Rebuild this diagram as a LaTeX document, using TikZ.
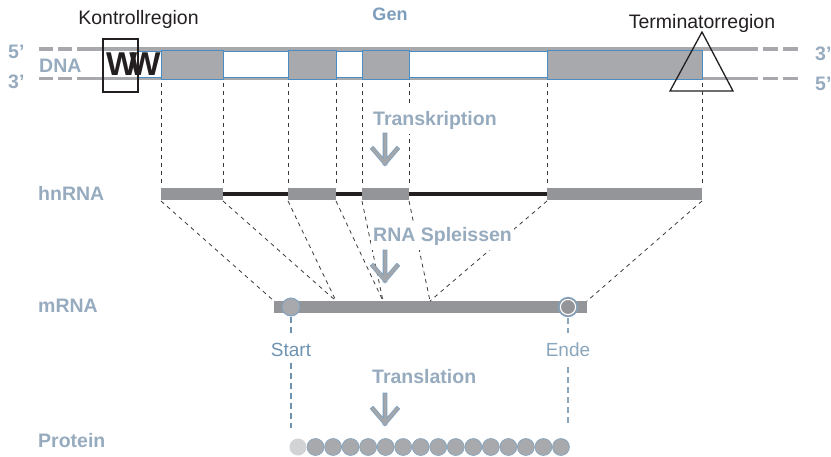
\documentclass[tikz,border=0pt]{standalone}
\usepackage{fontspec}
\setmainfont{Liberation Sans}
\usetikzlibrary{shapes.geometric}
\definecolor{strandc}{HTML}{A7A9AC}
\definecolor{exblue}{HTML}{4A8CC4}
\definecolor{exgray}{HTML}{A7A9AC}
\definecolor{hgray}{HTML}{939598}
\definecolor{intronc}{HTML}{231F20}
\definecolor{labc}{HTML}{97ABBF}
\definecolor{genc}{HTML}{7D9DBD}
\definecolor{startc}{HTML}{6E93B2}
\definecolor{endec}{HTML}{8AA6BC}
\definecolor{cutc}{HTML}{3A3A3A}
\definecolor{arrblue}{HTML}{7FA0BE}
\definecolor{arrgray}{HTML}{A3A6AA}
\definecolor{aablue}{HTML}{7FA2C0}
\definecolor{aalight}{HTML}{D1D3D4}
\begin{document}
\begin{tikzpicture}[x=1pt,y=-1pt,
  strand/.style={draw=strandc, line width=3.3pt},
  dex/.style={draw=exblue, line width=0.6pt, fill=exgray, minimum height=29pt, inner sep=0pt, outer sep=0pt, rectangle},
  hex/.style={fill=hgray, minimum height=12pt, inner sep=0pt, outer sep=0pt, rectangle},
  cut/.style={draw=cutc, line width=0.8pt, dash pattern=on 4pt off 4pt},
  lbl/.style={font=\fontsize{19.5}{22}\selectfont\bfseries, text=labc, inner sep=0pt, anchor=base west},
  steplbl/.style={font=\fontsize{19.5}{22}\selectfont\bfseries, text=labc, fill=white, inner xsep=2pt, inner ysep=5pt, anchor=base west},
  reg/.style={font=\fontsize{19.5}{22}\selectfont, text=intronc, inner sep=0pt, anchor=base},
  arrout/.style={draw=arrblue, line width=4.6pt, line cap=rect, line join=miter},
  arrin/.style={draw=arrgray, line width=3pt, line cap=rect, line join=miter},
  downarr/.pic={
    \draw[arrout] (0,0) -- (0,28) (-12,14) -- (0,28) -- (12,14);
    \draw[arrin] (0,0) -- (0,28) (-12,14) -- (0,28) -- (12,14);
  },
  aa/.style={circle, minimum size=17pt, inner sep=0pt, fill=exgray, draw=aablue, line width=0.6pt},
]
\useasboundingbox (0,0) rectangle (831,456);

% ---------- DNA ----------
\draw[strand] (77,49) -- (758,49);
\draw[strand] (39,49) -- (53,49) (58,49) -- (72,49) (763,49) -- (778,49) (783,49) -- (798,49);
\draw[strand] (77,78.5) -- (758,78.5);
\draw[strand] (39,78.5) -- (53,78.5) (58,78.5) -- (72,78.5) (763,78.5) -- (778,78.5) (783,78.5) -- (798,78.5);
\draw[exblue, line width=0.6pt, fill=white] (137,51.3) rectangle (702,76.8);

\node[dex, minimum width=62pt] (d1) at (192,64.5) {};
\node[dex, minimum width=48pt] (d2) at (312,64.5) {};
\node[dex, minimum width=47pt] (d3) at (385.5,64.5) {};
\node[dex, minimum width=155pt] (d4) at (624.5,64.5) {};

\node[font=\fontsize{33}{33}\selectfont\bfseries, text=intronc, anchor=base west, inner sep=0pt] (ww) at (106,75.5) {W\kern-8pt W};
\node[draw=intronc, line width=1.3pt, minimum width=35pt, minimum height=53pt, inner sep=0pt] (kbox) at (120.5,65.5) {};
\coordinate (ta) at (702,32);
\coordinate (tb) at (670,91);
\coordinate (tc) at (733,91);
\draw[intronc, line width=1.3pt, line join=miter] (ta) -- (tb) -- (tc) -- cycle;

\node[reg] (kl) at (138.5,24) {Kontrollregion};
\node[reg] (tl) at (702,28) {Terminatorregion};
\node[font=\fontsize{18}{22}\selectfont\bfseries, text=genc, inner sep=0pt, anchor=base] (gen) at (390,20) {Gen};

\node[lbl] (p5l) at (8,58) {5'};
\node[lbl] (p3l) at (8,88) {3'};
\node[lbl] (p3r) at (815,60) {3'};
\node[lbl] (p5r) at (815,90) {5'};
\node[lbl] (dna) at (39,72) {DNA};

% ---------- hnRNA ----------
\node[hex, minimum width=62pt] (h1) at (192,194) {};
\node[hex, minimum width=48pt] (h2) at (312,194) {};
\node[hex, minimum width=47pt] (h3) at (385.5,194) {};
\node[hex, minimum width=155pt] (h4) at (624.5,194) {};
\draw[intronc, line width=3.3pt] (h1.east) -- (h2.west) (h2.east) -- (h3.west) (h3.east) -- (h4.west);
\node[lbl] (hn) at (38,200) {hnRNA};

% cuts DNA -> hnRNA
\foreach \e in {1,2,3,4}{
  \draw[cut] ([yshift=-4pt]d\e.south west) -- ([yshift=1pt]h\e.north west);
  \draw[cut] ([yshift=-4pt]d\e.south east) -- ([yshift=1pt]h\e.north east);
}

% ---------- mRNA ----------
\node[hex, minimum width=313pt] (m) at (430.5,307) {};
\coordinate (j1) at (336,301);
\coordinate (j2) at (383,301);
\coordinate (j3) at (430,301);
\draw[cut] ([yshift=-1pt]h1.south west) -- (m.north west);
\draw[cut] ([yshift=-1pt]h1.south east) -- (j1);
\draw[cut] ([yshift=-1pt]h2.south west) -- (j1);
\draw[cut] ([yshift=-1pt]h2.south east) -- (j2);
\draw[cut] ([yshift=-1pt]h3.south west) -- (j2);
\draw[cut] ([yshift=-1pt]h3.south east) -- (j3);
\draw[cut] ([yshift=-1pt]h4.south west) -- (j3);
\draw[cut] ([yshift=-1pt]h4.south east) -- (m.north east);
\node[lbl] (mr) at (38,312) {mRNA};

\node[circle, minimum size=18pt, inner sep=0pt, fill=exgray, draw=aablue, line width=0.9pt] (sc) at (291,307) {};
\node[circle, minimum size=19pt, inner sep=0pt, fill=hgray, draw=aablue, line width=1.3pt] (ec) at (568,307) {};
\draw[white, line width=1.1pt] (ec.center) circle (7.6pt);

% ---------- step labels ----------
\node[steplbl] (tr) at (371,125) {Transkription};
\node[steplbl] (sp) at (371,241) {RNA Spleissen};
\node[steplbl] (tl2) at (370,383) {Translation};
\pic at (385,135) {downarr};
\pic at (385,252) {downarr};
\pic at (385,395) {downarr};

% ---------- Start / Ende ----------
\node[font=\fontsize{19}{22}\selectfont, text=startc, inner sep=0pt, anchor=base] (st) at (291,356) {Start};
\node[font=\fontsize{19}{22}\selectfont, text=endec, inner sep=0pt, anchor=base] (en) at (568,356) {Ende};
\coordinate (sb) at (291,428);
\coordinate (eb) at (568,423);
\draw[startc, line width=1.4pt, dash pattern=on 6pt off 4pt] ([yshift=-1pt]sc.south) -- ([yshift=9pt]st.north);
\draw[startc, line width=1.4pt, dash pattern=on 6pt off 4pt] ([yshift=-7pt]st.south) -- (sb);
\draw[endec, line width=1.4pt, dash pattern=on 6pt off 4pt] ([yshift=-1pt]ec.south) -- ([yshift=9pt]en.north);
\draw[endec, line width=1.4pt, dash pattern=on 6pt off 4pt] ([yshift=-11pt]en.south) -- (eb);

% ---------- Protein ----------
\node[lbl] (pr) at (38,447) {Protein};
\node[aa, fill=aalight, draw=none] (a0) at (298,447) {};
\foreach \i in {1,...,15}{
  \node[aa] (a\i) at ({298+17.53*\i},447) {};
}
\end{tikzpicture}
\end{document}
